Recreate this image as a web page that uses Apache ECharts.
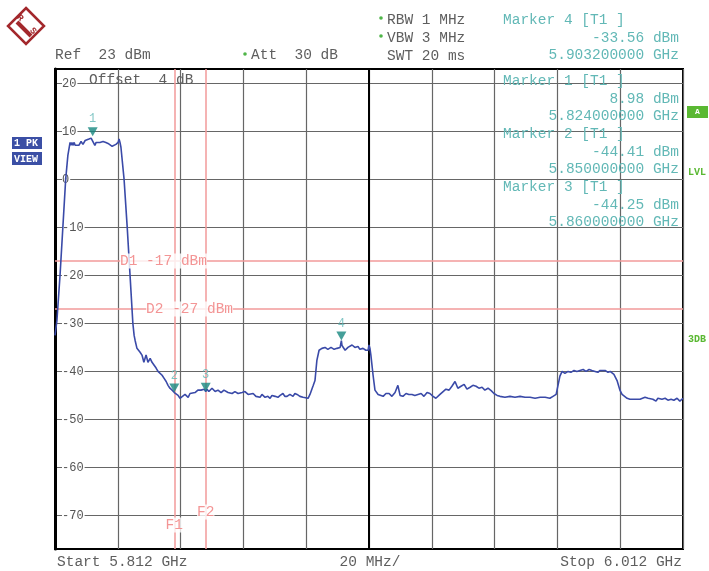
<!DOCTYPE html>
<html><head><meta charset="utf-8">
<script src="https://cdn.jsdelivr.net/npm/echarts@6/dist/echarts.min.js"></script>
<style>html,body{margin:0;padding:0;background:#fff}#c{width:709px;height:571px}</style>
</head><body><div id="c"></div>
<script>
// ---------- data ----------
const startMHz = 5812, stopMHz = 6012, divMHz = 20;
const refLevelDbm = 23, bottomLevelDbm = -77;
const gridTopDbm = 20, gridBottomDbm = -70, gridStepDb = 10;
// trace: frequency offset from start (MHz) and level (dBm)
const traceOffsetMHz = [0.0,0.6,1.6,2.5,3.4,4.1,4.8,5.1,5.4,5.7,6.1,6.4,7.0,7.6,8.3,8.9,9.6,10.2,10.8,11.5,12.0,12.7,13.1,13.7,14.3,15.3,16.2,16.9,17.5,18.2,18.8,19.4,20.1,20.4,20.7,21.0,22.0,23.0,23.9,24.8,25.2,25.5,26.1,27.1,27.7,28.0,28.3,28.7,29.0,29.3,29.6,30.3,30.9,31.5,32.2,32.8,33.4,34.1,34.7,35.4,36.0,36.6,37.3,38.0,38.5,39.2,39.8,40.4,41.4,42.4,43.0,43.6,44.6,45.5,46.5,47.5,48.0,48.4,49.0,50.0,51.0,51.9,52.9,53.8,55.1,56.4,57.3,58.3,59.6,60.5,61.5,62.1,63.1,64.0,64.6,65.3,65.9,66.9,67.8,68.5,69.1,70.1,71.0,71.7,72.6,73.2,73.9,74.8,75.8,76.4,77.1,78.0,79.0,79.6,80.6,81.2,82.2,82.8,83.4,84.1,85.0,86.0,86.9,87.9,88.9,89.8,90.8,91.2,91.4,92.4,93.3,93.9,94.6,95.5,96.5,97.1,98.1,99.0,99.7,100.0,100.3,100.6,101.3,101.9,102.9,103.5,104.5,105.4,106.4,107.3,108.3,109.2,109.9,110.8,111.8,112.7,113.7,114.6,115.6,116.6,117.5,118.5,119.4,120.4,121.3,122.6,123.6,124.5,125.5,126.4,127.4,128.3,129.3,130.3,131.2,132.2,133.1,134.1,135.0,136.0,136.9,137.9,138.9,139.8,140.8,141.7,143.3,144.9,146.5,148.1,149.7,151.3,152.9,154.5,156.1,157.6,158.6,159.6,160.2,160.8,161.5,162.4,163.4,164.3,165.3,166.2,167.2,168.2,169.1,170.1,171.0,172.0,172.9,173.6,174.2,175.2,176.1,176.8,178.0,179.0,179.9,180.6,181.2,182.2,183.1,184.7,186.3,187.9,188.9,189.5,190.4,191.4,192.0,193.3,194.3,195.2,196.2,197.1,198.1,199.0,200.0];
const traceLevelDbm = [-32.5,-29.5,-20.0,-10.0,0.0,5.0,7.7,7.1,7.7,7.1,7.7,7.1,7.5,7.1,7.9,7.3,8.1,7.7,8.4,8.6,8.98,7.1,7.7,7.9,7.7,7.9,7.7,7.5,7.3,6.9,7.1,7.3,7.7,8.4,7.7,6.7,0.0,-10.0,-20.0,-30.0,-32.5,-33.5,-35.2,-36.0,-36.6,-37.3,-38.1,-37.7,-36.6,-37.3,-38.1,-37.3,-38.1,-38.5,-39.3,-40.0,-40.2,-40.8,-41.4,-42.1,-42.9,-43.5,-43.9,-44.4,-44.2,-45.0,-45.6,-45.4,-44.8,-45.4,-44.6,-44.4,-44.4,-43.9,-43.9,-43.7,-44.2,-43.7,-44.2,-43.5,-44.2,-43.9,-44.4,-43.9,-44.4,-44.6,-44.2,-44.6,-44.4,-44.2,-44.8,-45.2,-44.6,-45.2,-45.0,-45.4,-44.8,-45.4,-45.2,-45.6,-45.0,-45.2,-45.4,-45.0,-44.6,-45.2,-45.2,-44.8,-45.2,-44.6,-44.8,-45.2,-45.4,-45.2,-45.6,-44.8,-43.0,-41.9,-37.7,-35.6,-35.2,-35.0,-35.4,-35.0,-35.4,-35.2,-35.0,-33.6,-34.6,-35.6,-35.0,-35.2,-34.5,-35.0,-34.8,-35.4,-35.2,-35.6,-35.6,-34.5,-35.2,-36.6,-40.8,-43.9,-44.8,-45.2,-45.2,-44.6,-44.6,-45.2,-44.4,-42.9,-45.0,-45.2,-44.6,-44.8,-44.8,-45.0,-44.8,-44.6,-45.2,-44.4,-44.6,-45.2,-45.6,-44.8,-44.2,-43.7,-43.9,-43.1,-42.1,-43.5,-43.1,-42.7,-43.7,-43.3,-42.9,-43.1,-43.5,-43.3,-43.9,-43.5,-44.0,-44.6,-45.0,-45.2,-45.4,-45.2,-45.4,-45.2,-45.4,-45.4,-45.6,-45.4,-45.4,-45.6,-45.2,-44.8,-44.6,-41.0,-40.0,-40.4,-40.0,-40.2,-39.8,-40.0,-39.8,-39.6,-40.0,-39.6,-39.8,-40.0,-40.2,-39.8,-40.2,-39.8,-40.2,-40.0,-40.6,-41.9,-43.9,-44.8,-45.2,-45.6,-45.8,-45.8,-45.8,-45.4,-45.6,-45.6,-45.8,-46.2,-45.6,-45.8,-45.6,-46.0,-45.8,-46.0,-45.6,-46.2,-45.6];
const markerNames = ['1','2','3','4'];
const markerFreqMHz = [5824, 5850, 5860, 5903.2];
const markerLevelDbm = [8.98, -44.41, -44.25, -33.56];
const displayLineNames = ['D1','D2'];
const displayLineDbm = [-17, -27];
const freqLineNames = ['F1','F2'];
const freqLineMHz = [5850, 5860];
const refText = 'Ref  23 dBm', attText = 'Att  30 dB', offsetText = 'Offset  4 dB';
const settingTexts = ['RBW 1 MHz','VBW 3 MHz','SWT 20 ms'];

// ---------- chart ----------
const chart = echarts.init(document.getElementById('c'), null, {renderer:'canvas'});
const MONO = '"Liberation Mono", "DejaVu Sans Mono", monospace';
const FONT = '14.5px ' + MONO;
const GREY = '#5e5e5e', TEAL = '#62b8b6', RED = '#f29a9a', REDTXT = '#f07a7a';
const span = stopMHz - startMHz;
const tracePts = traceOffsetMHz.map((o,i)=>[o, traceLevelDbm[i]]);
const markerPts = markerFreqMHz.map((f,i)=>({name:markerNames[i], value:[f-startMHz, markerLevelDbm[i]]}));

function txt(text, x, y, opt){
  opt = opt || {};
  return {type:'text', silent:true, z:50, style:{text, x, y, font: opt.font||FONT, fill: opt.fill||GREY,
    align: opt.align||'left', textAlign: opt.align||'left', verticalAlign:'middle', textVerticalAlign:'middle'}};
}
const graphics = [];
// logo
graphics.push({type:'polygon', silent:true, shape:{points:[[26,8],[44,26],[26,44],[8,26]]}, style:{fill:'#fff', stroke:'#a3282c', lineWidth:2.5}});
graphics.push({type:'line', silent:true, shape:{x1:17,y1:22,x2:31,y2:36}, style:{stroke:'#a3282c', lineWidth:4}});
graphics.push({type:'text', silent:true, x:20, y:18, rotation:-Math.PI/4, style:{text:'R', font:'bold 9px '+MONO, fill:'#a3282c', align:'center', verticalAlign:'middle'}});
graphics.push({type:'text', silent:true, x:33, y:31, rotation:-Math.PI/4, style:{text:'S', font:'bold 9px '+MONO, fill:'#a3282c', align:'center', verticalAlign:'middle'}});
// header
graphics.push(txt(refText, 55, 55));
graphics.push({type:'circle', silent:true, shape:{cx:245, cy:54, r:1.8}, style:{fill:'#4fb548'}});
graphics.push(txt(attText, 251, 55));
settingTexts.forEach((t,i)=>{
  if(i<2) graphics.push({type:'circle', silent:true, shape:{cx:381, cy:18+i*18, r:1.8}, style:{fill:'#4fb548'}});
  graphics.push(txt(t, 387, 20+i*18));
});
// marker 4 block (above) and markers 1-3 (inside)
function markerBlock(idx, y0){
  graphics.push(txt('Marker '+markerNames[idx]+' [T1 ]', 503, y0, {fill:TEAL}));
  graphics.push(txt(markerLevelDbm[idx].toFixed(2)+' dBm', 679, y0+18, {fill:TEAL, align:'right'}));
  graphics.push(txt((markerFreqMHz[idx]/1000).toFixed(9)+' GHz', 679, y0+35.5, {fill:TEAL, align:'right'}));
}
markerBlock(3, 20);
markerBlock(0, 81);
markerBlock(1, 134);
markerBlock(2, 187);
graphics.push(txt(offsetText, 89, 80));
// bottom
graphics.push(txt('Start '+(startMHz/1000).toFixed(3)+' GHz', 57, 562));
graphics.push(txt(divMHz+' MHz/', 370, 562, {align:'center'}));
graphics.push(txt('Stop '+(stopMHz/1000).toFixed(3)+' GHz', 682, 562, {align:'right'}));
// side badges
graphics.push({type:'rect', silent:true, shape:{x:12,y:137,width:30,height:12}, style:{fill:'#3b4fa5'}});
graphics.push(txt('1 PK', 14, 143.5, {font:'bold 10px '+MONO, fill:'#fff'}));
graphics.push({type:'rect', silent:true, shape:{x:12,y:152,width:30,height:13}, style:{fill:'#3b4fa5'}});
graphics.push(txt('VIEW', 14, 159, {font:'bold 10px '+MONO, fill:'#fff'}));
graphics.push({type:'rect', silent:true, shape:{x:687,y:106,width:21,height:12}, style:{fill:'#5ab832'}});
graphics.push(txt('A', 697.5, 112, {font:'bold 8px '+MONO, fill:'#fff', align:'center'}));
graphics.push(txt('LVL', 688, 172, {font:'bold 10px '+MONO, fill:'#5ab832'}));
graphics.push(txt('3DB', 688, 339, {font:'bold 10px '+MONO, fill:'#5ab832'}));

const markLineData = [];
displayLineDbm.forEach(v=>markLineData.push({yAxis:v, lineStyle:{color:RED, width:1.5, type:'solid'}}));
freqLineMHz.forEach(f=>markLineData.push({xAxis:f-startMHz, lineStyle:{color:RED, width:1.5, type:'solid'}}));
markLineData.push({xAxis:span/2, lineStyle:{color:'#000', width:2, type:'solid'}});

const option = {
  animation:false,
  backgroundColor:'#fff',
  grid:[
    {left:55, right:26, top:69, bottom:22, show:true, borderColor:'#000', borderWidth:2, backgroundColor:'transparent'},
    {left:55, right:26, top:69+(refLevelDbm-gridTopDbm)*4.8, bottom:22+(gridBottomDbm-bottomLevelDbm)*4.8, show:false}
  ],
  xAxis:[
    {gridIndex:0, type:'value', min:0, max:span, interval:divMHz, axisLine:{show:false}, axisTick:{show:false}, axisLabel:{show:false},
     splitLine:{show:true, lineStyle:{color:'#666', width:1.2}}},
    {gridIndex:1, type:'value', min:0, max:span, show:false, splitLine:{show:false}}
  ],
  yAxis:[
    {gridIndex:0, type:'value', min:bottomLevelDbm, max:refLevelDbm, axisLine:{show:true, lineStyle:{color:'#000', width:3}}, axisTick:{show:false}, axisLabel:{show:false}, splitLine:{show:false}},
    {gridIndex:1, type:'value', min:gridBottomDbm, max:gridTopDbm, interval:gridStepDb, axisLine:{show:false}, axisTick:{show:false},
     splitLine:{show:true, lineStyle:{color:'#666', width:1.2}},
     axisLabel:{show:true, inside:true, margin:7, color:'#555', fontFamily:MONO, fontSize:12, backgroundColor:'#fff', padding:[0,1,0,0]}}
  ],
  graphic: graphics,
  series:[
    {type:'line', name:'trace', xAxisIndex:0, yAxisIndex:0, data:tracePts, showSymbol:false, symbol:'none', z:5,
     lineStyle:{color:'#3a4aa8', width:1.6}, clip:true,
     markLine:{silent:true, symbol:['none','none'], label:{show:false}, data:markLineData, z:3}},
    {type:'scatter', name:'markers', xAxisIndex:0, yAxisIndex:0, data:markerPts, symbol:'triangle', symbolRotate:180,
     symbolSize:[10,9], symbolOffset:[0,-4.5], itemStyle:{color:'#17877f'}, z:8,
     label:{show:true, formatter:p=>p.name, position:'top', distance:2, color:TEAL, fontFamily:MONO, fontSize:12}},
    {type:'scatter', name:'lineLabels', xAxisIndex:0, yAxisIndex:0, symbolSize:0, z:6,
     data:[
       {value:[20.7, displayLineDbm[0]], name:displayLineNames[0]+' '+displayLineDbm[0]+' dBm', label:{position:'right'}},
       {value:[29.0, displayLineDbm[1]], name:displayLineNames[1]+' '+displayLineDbm[1]+' dBm', label:{position:'right'}},
       {value:[freqLineMHz[0]-startMHz, -72.0], name:freqLineNames[0], label:{position:'inside'}},
       {value:[freqLineMHz[1]-startMHz, -69.3], name:freqLineNames[1], label:{position:'inside'}}
     ],
     label:{show:true, formatter:p=>p.name, distance:0, color:REDTXT, fontFamily:MONO, fontSize:14.5, backgroundColor:'#fff', padding:[0,0]}}
  ]
};
chart.setOption(option);
</script></body></html>
